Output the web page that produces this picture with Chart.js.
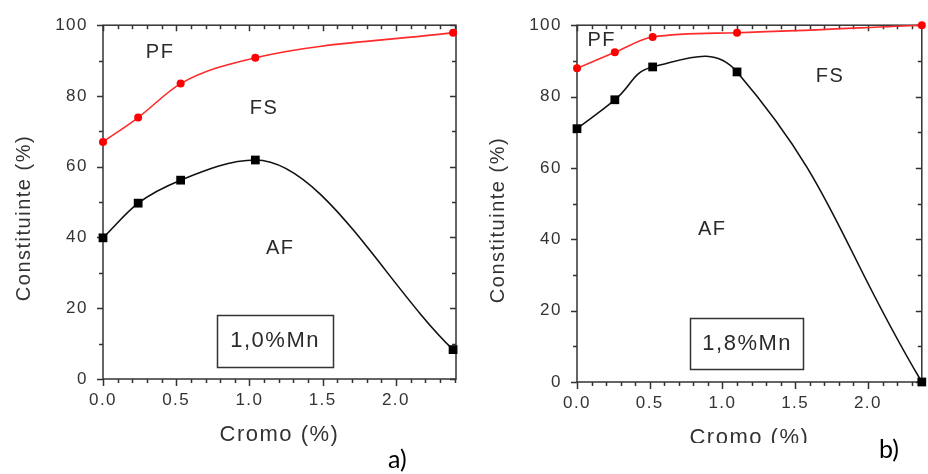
<!DOCTYPE html>
<html><head><meta charset="utf-8">
<script src="https://cdn.jsdelivr.net/npm/chart.js@4.4.1/dist/chart.umd.min.js"></script>
<style>
html,body{margin:0;padding:0;background:#fff;width:928px;height:474px;overflow:hidden;position:relative;}
#pa{position:absolute;left:0;top:0;width:470px;height:474px;}
#pb{position:absolute;left:470px;top:0;width:458px;height:443px;overflow:hidden;}
.lbl{position:absolute;font-family:Lato,"Open Sans",sans-serif;font-size:25px;line-height:30px;color:#000;}
</style></head><body>
<div id="pa"><canvas id="ca" width="470" height="474"></canvas></div>
<div id="pb"><canvas id="cb" width="458" height="474"></canvas></div>
<div class="lbl" style="left:388px;top:443px">a)</div>
<div class="lbl" style="left:879px;top:433px">b)</div>
<script>
// ---- data ----
const cromoA = [0, 0.24, 0.53, 1.04, 2.39];
const pfA    = [67, 73.9, 83.5, 90.8, 97.9];
const afA    = [39.9, 49.7, 56.2, 61.9, 8.3];
const cromoB = [0, 0.26, 0.52, 1.10, 2.37];
const pfB    = [87.9, 92.4, 96.7, 97.9, 100];
const afB    = [71.0, 79.1, 88.3, 86.9, 0];
const xTitle = 'Cromo (%)';
const yTitle = 'Constituinte (%)';
const regionLabels = ['PF', 'FS', 'AF'];
const mnLabelA = '1,0%Mn';
const mnLabelB = '1,8%Mn';

const FONT = '"Liberation Sans", Arial, sans-serif';
const AXIS = '#333';

const spacing = {
  id: 'spacing',
  beforeDraw(chart) { chart.ctx.letterSpacing = '1.5px'; }
};

const frame = {
  id: 'frame',
  beforeDatasetsDraw(chart, args, o) {
    const {ctx, chartArea: a, scales: {x, y}} = chart;
    ctx.save();
    ctx.strokeStyle = AXIS; ctx.lineWidth = 1.5;
    ctx.strokeRect(a.left, a.top, a.right - a.left, a.bottom - a.top);
    ctx.beginPath();
    for (let i = 0; i * 0.1 <= x.max + 1e-9; i++) {
      const px = Math.round(x.getPixelForValue(i * 0.1)) + 0.5;
      const maj = i % 5 === 0;
      ctx.moveTo(px, a.bottom); ctx.lineTo(px, a.bottom + (maj ? 7 : 4));
      ctx.moveTo(px, a.top); ctx.lineTo(px, a.top + (maj ? 6 : 4));
    }
    for (let v = 0; v <= 100; v += 10) {
      const py = Math.round(y.getPixelForValue(v)) + 0.5;
      const maj = v % 20 === 0;
      ctx.moveTo(a.left, py); ctx.lineTo(a.left - (maj ? 6 : 4), py);
      ctx.moveTo(a.right, py); ctx.lineTo(a.right - (maj ? 6 : 4), py);
    }
    ctx.stroke();
    // y-axis title (rotated)
    ctx.fillStyle = AXIS;
    ctx.font = '20px ' + FONT;
    ctx.textAlign = 'center'; ctx.textBaseline = 'middle';
    ctx.translate(o.ytX, o.ytY);
    ctx.rotate(-Math.PI / 2);
    ctx.fillText(yTitle, 0, 0);
    ctx.restore();
  }
};

const notes = {
  id: 'notes',
  afterDatasetsDraw(chart, args, o) {
    const {ctx, scales: {x, y}} = chart;
    ctx.save();
    ctx.fillStyle = '#2a2a2a';
    ctx.textAlign = 'center'; ctx.textBaseline = 'middle';
    ctx.font = '20px ' + FONT;
    for (const t of o.texts) ctx.fillText(t.text, x.getPixelForValue(t.x), y.getPixelForValue(t.y));
    const b = o.box;
    const x0 = x.getPixelForValue(b.x0), x1 = x.getPixelForValue(b.x1);
    const y0 = y.getPixelForValue(b.y0), y1 = y.getPixelForValue(b.y1);
    ctx.strokeStyle = AXIS; ctx.lineWidth = 1.5;
    ctx.strokeRect(Math.round(x0) + 0.5, Math.round(y0) + 0.5, Math.round(x1 - x0), Math.round(y1 - y0));
    ctx.font = '22px ' + FONT;
    ctx.fillText(b.text, (x0 + x1) / 2, (y0 + y1) / 2 + 1);
    ctx.restore();
  }
};

function makeChart(id, cromo, pf, af, g) {
  return new Chart(document.getElementById(id), {
    type: 'line',
    data: {
      datasets: [
        { data: cromo.map((c, i) => ({x: c, y: pf[i]})), borderColor: '#ff2a2a', backgroundColor: '#ff0000',
          borderWidth: 1.6, pointStyle: 'circle', pointRadius: 4, pointBorderWidth: 0,
          cubicInterpolationMode: g.pfMode, tension: g.pfTension, clip: false },
        { data: cromo.map((c, i) => ({x: c, y: af[i]})), borderColor: '#111', backgroundColor: '#000',
          borderWidth: 1.6, pointStyle: 'rect', pointRadius: 6.2, pointBorderWidth: 0,
          cubicInterpolationMode: g.afMode, tension: g.afTension, clip: false }
      ]
    },
    options: {
      responsive: false, animation: false, devicePixelRatio: 1,
      layout: { padding: { left: 0, top: g.top, right: g.right, bottom: 0 } },
      plugins: {
        legend: { display: false }, tooltip: { enabled: false },
        notes: g.notes,
        frame: { ytX: g.ytX, ytY: g.ytY }
      },
      scales: {
        x: {
          type: 'linear', min: 0, max: g.xmax,
          grid: { display: false, drawTicks: false }, border: { display: false },
          ticks: { stepSize: 0.5, includeBounds: false, padding: 11, color: AXIS, font: { size: 17, family: FONT },
                   callback: v => v.toFixed(1), maxRotation: 0 },
          title: { display: true, text: xTitle, color: AXIS, font: { size: 22, family: FONT }, padding: { bottom: g.xtPad, top: 0 } },
          afterFit: s => { s.height = g.xh; }
        },
        y: {
          min: 0, max: 100,
          grid: { display: false, drawTicks: false }, border: { display: false },
          ticks: { stepSize: 20, padding: 15, color: AXIS, font: { size: 17, family: FONT } },
          title: { display: false },
          afterFit: s => { s.width = g.yw; }
        }
      }
    },
    plugins: [spacing, frame, notes]
  });
}

makeChart('ca', cromoA, pfA, afA, {
  xmax: 2.41, top: 22, right: 14, xh: 95, yw: 103, xtPad: 26, ytX: 24, ytY: 218,
  pfMode: 'monotone', pfTension: 0.4, afMode: 'monotone', afTension: 0.4,
  notes: {
    texts: [ {text: regionLabels[0], x: 0.39, y: 92.4}, {text: regionLabels[1], x: 1.10, y: 76.5}, {text: regionLabels[2], x: 1.21, y: 37} ],
    box: { text: mnLabelA, x0: 0.78, x1: 1.57, y0: 18.2, y1: 3.6 }
  }
});
makeChart('cb', cromoB, pfB, afB, {
  xmax: 2.37, top: 23, right: 4, xh: 92, yw: 107, xtPad: 23, ytX: 28, ytY: 220,
  pfMode: 'monotone', pfTension: 0.4, afMode: 'default', afTension: 0.45,
  notes: {
    texts: [ {text: regionLabels[0], x: 0.17, y: 95.6}, {text: regionLabels[1], x: 1.74, y: 85.5}, {text: regionLabels[2], x: 0.93, y: 42.8} ],
    box: { text: mnLabelB, x0: 0.78, x1: 1.56, y0: 18.0, y1: 3.8 }
  }
});
</script>
</body></html>
